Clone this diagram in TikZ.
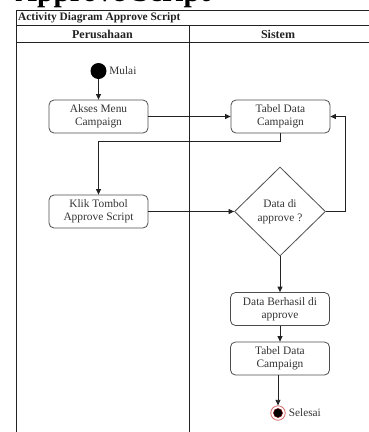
\documentclass[tikz,border=0pt]{standalone}
\usepackage{fontspec}
\setmainfont{Liberation Serif}
\usetikzlibrary{shapes.geometric,arrows.meta}
\definecolor{ink}{HTML}{222222}
\definecolor{boxline}{HTML}{4D4D4D}
\definecolor{txt}{HTML}{333333}
\definecolor{endring}{HTML}{D96B6B}
\definecolor{endcore}{HTML}{7A1010}

\begin{document}
\begin{tikzpicture}[x=1pt,y=-1pt,
  act/.style={draw=boxline, line width=0.8pt, rounded corners=5pt,
    minimum width=99pt, minimum height=33pt, align=center, text=txt,
    font=\fontsize{11.4}{13.3}\selectfont, inner sep=1pt},
  decision/.style={diamond, draw=boxline, line width=0.8pt,
    minimum width=91pt, minimum height=89pt, inner sep=0pt, align=center,
    text=txt, font=\fontsize{11.4}{14.3}\selectfont},
  flow/.style={draw=ink, line width=0.8pt, -{Triangle[length=5.5pt,width=5pt]}},
  frame/.style={draw=ink, line width=1pt},
  lbl/.style={text=txt, font=\fontsize{11.3}{13}\selectfont, inner sep=0pt}]

\useasboundingbox (0,0) rectangle (369,432);
\clip (0,0) rectangle (369,432);

% heading above the swimlane frame (only its lower edge lies on the page)
\node[anchor=base west, inner sep=0pt, font=\fontsize{29.6}{30}\bfseries\selectfont]
  (heading) at (15.5,1.6) {Approve Script};

% swimlane frame
\draw[frame] (16,10) rectangle (370,440);
\draw[frame] (16,25.7) -- (370,25.7);
\draw[frame] (16,42.7) -- (370,42.7);
\draw[frame] (189,25.7) -- (189,440);
\node[anchor=west, inner sep=0pt, text=ink, font=\fontsize{11.4}{13}\bfseries\selectfont]
  (title) at (18,17.9) {Activity Diagram Approve Script};
\node[text=ink, inner sep=0pt, font=\fontsize{12}{14}\bfseries\selectfont]
  (laneA) at (102.5,34.2) {Perusahaan};
\node[text=ink, inner sep=0pt, font=\fontsize{12}{14}\bfseries\selectfont]
  (laneB) at (278,34.2) {Sistem};

% activities
\node[circle, fill=black, minimum size=16pt, inner sep=0pt] (start) at (98.5,71) {};
\node[lbl, anchor=west] (mulai) at ([xshift=2.5pt]start.east) {Mulai};

\node[act] (akses) at (98.5,116.5) {Akses Menu\\Campaign};
\node[act] (tab1) at (280.5,116.5) {Tabel Data\\Campaign};
\node[act] (klik) at (98.5,211.5) {Klik Tombol\\Approve Script};
\node[decision] (dia) at (280,211.5) {Data di\\approve ?};
\node[act] (ok) at (280,309) {Data Berhasil di\\approve};
\node[act] (tab2) at (280,358.5) {Tabel Data\\Campaign};

\node[circle, draw=endring, line width=0.8pt, fill=white, minimum size=14.5pt, inner sep=0pt] (endst) at (278,413) {};
\node[circle, draw=endcore, line width=0.6pt, fill=black, minimum size=9pt, inner sep=0pt] (endcore) at (endst) {};
\node[lbl, anchor=west] (selesai) at ([xshift=3pt]endst.east) {Selesai};

% control flow
\coordinate (drop) at (280.5,141);
\coordinate (loopc) at (345.5,211.5);

\draw[flow] (start) -- (akses);
\draw[flow] (akses) -- (tab1);
\draw[flow] (tab1.south) -- (drop) -| (klik.north);
\draw[flow] (klik) -- (dia);
\draw[flow] (dia.east) -- (loopc) |- (tab1.east);
\draw[flow] (dia.south) -- (ok.north);
\draw[flow] (ok) -- (tab2);
\draw[flow] (tab2.south -| endst) -- (endst);
\end{tikzpicture}
\end{document}
